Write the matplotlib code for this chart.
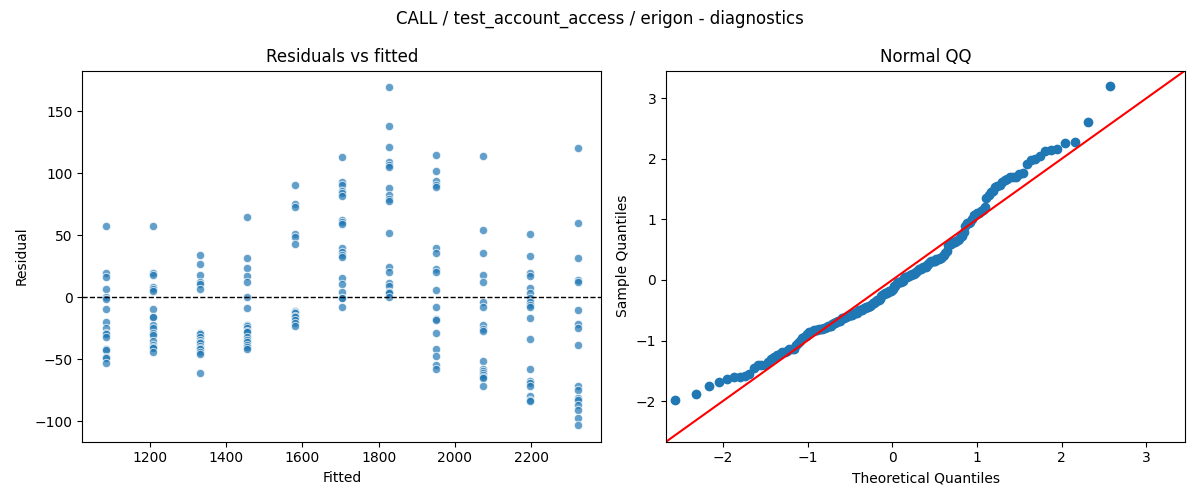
import numpy as np
import matplotlib
matplotlib.use("Agg")
import matplotlib.pyplot as plt
from statistics import NormalDist

# ======================
# 1. Data
# ======================
fitted_levels = [1085, 1209, 1332, 1456, 1580, 1704, 1827, 1951, 2075, 2198, 2322]

resid_groups = [
    [57.5, 19.9, 16.1, 6.5, 0.5, -1.6, -9.7, -20.2, -25.0, -29.0, -30.0, -31.7,
     -41.4, -42.5, -48.4, -49.2, -53.2],
    [57.5, 19.9, 18.0, 8.6, 6.5, 5.4, -9.7, -15.6, -16.1, -22.3, -25.0, -29.0,
     -30.4, -34.9, -38.4, -40.0, -41.1, -43.8],
    [34.1, 26.6, 18.0, 12.6, 11.0, 6.5, -28.5, -30.0, -31.7, -34.4, -36.0, -37.1,
     -39.0, -41.1, -42.0, -43.8, -45.7, -61.3],
    [64.5, 31.5, 23.4, 17.5, 12.6, 0.5, -8.9, -22.3, -23.1, -25.0, -27.2, -27.7,
     -31.7, -34.4, -36.0, -38.4, -40.0, -41.9],
    [90.3, 75.0, 72.6, 51.1, 48.4, 43.0, -10.8, -12.0, -12.9, -15.1, -16.0, -18.3,
     -21.0, -23.1],
    [112.9, 93.0, 90.3, 86.0, 83.9, 81.7, 62.4, 61.0, 59.1, 39.5, 36.8, 34.1,
     32.3, 15.3, 10.5, 4.0, -0.5, -0.8, -8.1],
    [169.4, 138.2, 121.0, 108.9, 106.7, 105.4, 87.9, 82.5, 79.0, 78.0, 51.6, 24.7,
     20.7, 11.3, 9.1, 4.6, 4.0, 3.2, 0.0],
    [114.8, 101.9, 94.1, 90.6, 88.7, 39.5, 36.0, 22.6, 20.7, 5.9, -8.1, -17.7,
     -18.3, -29.0, -41.9, -47.3, -54.6, -58.1],
    [114.0, 54.3, 35.5, 18.0, 12.1, -3.5, -8.1, -22.3, -25.8, -26.9, -51.3, -58.1,
     -59.9, -61.0, -62.6, -64.0, -65.3, -72.0],
    [51.1, 33.3, 19.9, 17.2, 7.3, 3.8, -0.8, -3.5, -6.2, -7.5, -16.9, -33.9,
     -58.1, -67.2, -69.4, -72.0, -80.1, -82.8, -84.1],
    [120.2, 59.7, 31.5, 14.0, 12.6, -10.2, -21.5, -25.0, -38.4, -72.0, -74.7,
     -81.5, -82.8, -86.8, -90.9, -97.6, -103.0],
]

fitted = np.concatenate([[f] * len(g) for f, g in zip(fitted_levels, resid_groups)])
resid = np.concatenate(resid_groups)

# ======================
# 2. QQ quantiles (statsmodels-style positions i/(n+1))
# ======================
n = len(resid)
sample_q = np.sort((resid - resid.mean()) / resid.std())
nd = NormalDist()
theo_q = np.array([nd.inv_cdf(i / (n + 1)) for i in range(1, n + 1)])

# ======================
# 3. Plot
# ======================
fig, (ax1, ax2) = plt.subplots(1, 2, figsize=(12, 5), dpi=100)

ax1.scatter(fitted, resid, s=36, color="C0", alpha=0.7,
            edgecolor="white", linewidth=0.75)
ax1.axhline(0, color="black", linestyle="--", linewidth=1)
ax1.set_title("Residuals vs fitted")
ax1.set_xlabel("Fitted")
ax1.set_ylabel("Residual")

ax2.plot(theo_q, sample_q, marker="o", linestyle="none", color="C0")
ax2.set_xmargin(0.02)
ax2.autoscale_view()
xl, yl = ax2.get_xlim(), ax2.get_ylim()
lo, hi = min(xl[0], yl[0]), max(xl[1], yl[1])
ax2.plot([lo, hi], [lo, hi], color="red")
ax2.set_xlim(lo, hi)
ax2.set_ylim(lo, hi)
ax2.set_title("Normal QQ")
ax2.set_xlabel("Theoretical Quantiles")
ax2.set_ylabel("Sample Quantiles")

fig.suptitle("CALL / test_account_access / erigon - diagnostics")
fig.tight_layout()
fig.savefig("out.png")
